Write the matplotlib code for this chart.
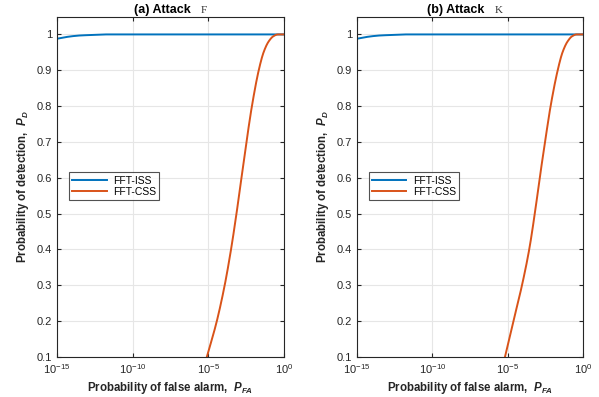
import numpy as np
import matplotlib
matplotlib.use("Agg")
import matplotlib.pyplot as plt
from matplotlib.ticker import FixedLocator, LogFormatterMathtext, NullLocator

plt.rcParams['font.family'] = ['Liberation Sans', 'DejaVu Sans']
plt.rcParams['mathtext.fontset'] = 'custom'
plt.rcParams['mathtext.rm'] = 'Liberation Sans'
plt.rcParams['mathtext.it'] = 'Liberation Sans:italic:bold'
plt.rcParams['mathtext.bf'] = 'Liberation Sans:bold'

# ---- data (log10 of P_FA, P_D) ----
iss_exp = [-15, -14.5, -14, -13.5, -13, -12.5, -12, -10, -5, 0]
iss_pd = [0.988, 0.992, 0.995, 0.997, 0.998, 0.999, 1.0, 1.0, 1.0, 1.0]

css_exp_a = [-5.1, -4.44, -3.92, -3.50, -3.14, -2.81, -2.48, -2.12, -1.67, -1.35, -1.02, -0.70, -0.40, 0]
css_pd_a = [0.1, 0.2, 0.3, 0.4, 0.5, 0.6, 0.7, 0.8, 0.9, 0.95, 0.98, 0.995, 1.0, 1.0]

css_exp_b = [-5.18, -4.62, -4.05, -3.57, -3.20, -2.87, -2.52, -2.15, -1.68, -1.36, -1.03, -0.72, -0.42, 0]
css_pd_b = [0.1, 0.2, 0.3, 0.4, 0.5, 0.6, 0.7, 0.8, 0.9, 0.95, 0.98, 0.995, 1.0, 1.0]

titles = ['(a) Attack', '(b) Attack']
symbols = ['F', 'K']
series_names = ['FFT-ISS', 'FFT-CSS']
xticks = [1e-15, 1e-10, 1e-5, 1e0]
yticks = [0.1, 0.2, 0.3, 0.4, 0.5, 0.6, 0.7, 0.8, 0.9, 1.0]

blue = '#0072BD'
orange = '#D95319'

fig = plt.figure(figsize=(5.99, 3.97), dpi=100)
axes_pos = [[57/599, 40/397, 227/599, 340.5/397],
            [357/599, 40/397, 226/599, 340.5/397]]
title_x = [0.339, 0.31]
sym_x = [0.632, 0.611]


def smooth(xe, yv):
    # monotone cubic (PCHIP) interpolation through the read points
    xe = np.asarray(xe, float); yv = np.asarray(yv, float)
    xs = np.linspace(xe[0], xe[-1], 500)
    h = np.diff(xe); d = np.diff(yv) / h
    m = np.zeros_like(yv)
    m[0] = d[0]; m[-1] = d[-1]
    for k in range(1, len(xe) - 1):
        if d[k-1] * d[k] <= 0:
            m[k] = 0
        else:
            w1 = 2*h[k] + h[k-1]; w2 = h[k] + 2*h[k-1]
            m[k] = (w1 + w2) / (w1/d[k-1] + w2/d[k])
    idx = np.clip(np.searchsorted(xe, xs) - 1, 0, len(xe) - 2)
    t = (xs - xe[idx]) / h[idx]
    h00 = 2*t**3 - 3*t**2 + 1; h10 = t**3 - 2*t**2 + t
    h01 = -2*t**3 + 3*t**2; h11 = t**3 - t**2
    ys = (h00*yv[idx] + h10*h[idx]*m[idx] + h01*yv[idx+1]
          + h11*h[idx]*m[idx+1])
    return 10**xs, ys


css_sets = [(css_exp_a, css_pd_a), (css_exp_b, css_pd_b)]

for k in range(2):
    ax = fig.add_axes(axes_pos[k])
    xi, yi = smooth(iss_exp, iss_pd)
    ax.plot(xi, yi, color=blue, lw=1.4, label=series_names[0])
    xc, yc = smooth(*css_sets[k])
    ax.plot(xc, yc, color=orange, lw=1.4, label=series_names[1])
    ax.set_xscale('log')
    ax.set_xlim(1e-15, 1e0)
    ax.set_ylim(0.1, 1.05)
    ax.xaxis.set_major_locator(FixedLocator(xticks))
    ax.xaxis.set_major_formatter(LogFormatterMathtext())
    ax.xaxis.set_minor_locator(NullLocator())
    ax.set_yticks(yticks)
    ax.set_yticklabels(['%g' % v for v in yticks])
    ax.grid(True, color='#e6e6e6', lw=0.8)
    ax.set_axisbelow(True)
    ax.tick_params(direction='in', top=True, right=True, labelsize=8,
                   colors='#262626', length=3, width=0.8)
    for s in ax.spines.values():
        s.set_color('#262626'); s.set_linewidth(0.8)
    ax.set_xlabel('Probability of false alarm,  $P_{FA}$', fontsize=8.3,
                  fontweight='bold', color='#262626', labelpad=3)
    ax.set_ylabel('Probability of detection,  $P_D$', fontsize=8.3,
                  fontweight='bold', color='#262626', labelpad=4)
    ax.text(title_x[k], 1.011, titles[k], transform=ax.transAxes, fontsize=9,
            fontweight='bold', ha='left', va='baseline', color='black')
    ax.text(sym_x[k], 1.011, symbols[k], transform=ax.transAxes, fontsize=8,
            family='Liberation Serif', ha='left', va='baseline', color='#333333')
    leg = ax.legend(loc='upper left', bbox_to_anchor=(0.053, 0.542), fontsize=7.5,
                    frameon=True, fancybox=False, handlelength=3.3,
                    borderpad=0.3, labelspacing=0.15, handletextpad=0.6,
                    borderaxespad=0)
    leg.get_frame().set_edgecolor('#262626')
    leg.get_frame().set_linewidth(0.8)

fig.savefig('out.png', dpi=100)
